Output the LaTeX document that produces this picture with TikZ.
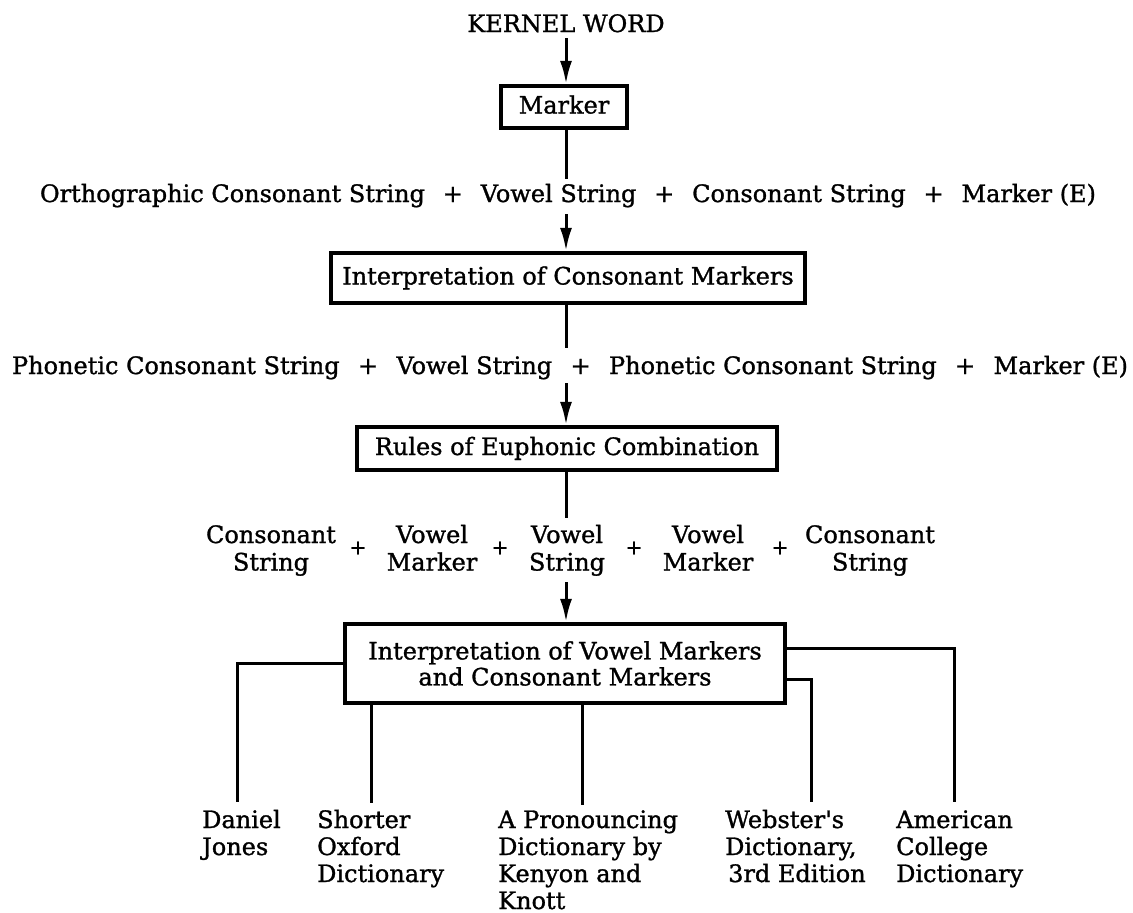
\documentclass[tikz,border=0pt]{standalone}
\usepackage{fontspec}
\setmainfont{DejaVu Serif}[Ligatures=TeXOff, FakeBold=1.2]
\usetikzlibrary{arrows.meta}
% a left-aligned column of lines whose baseline is that of its first line
\newcommand{\leftlines}[1]{\vtop{\baselineskip=27pt\halign{##\hfil\cr#1\crcr}}}
\begin{document}
\begin{tikzpicture}[x=1pt,y=-1pt,
  every node/.style={inner sep=0pt, font=\fontsize{24}{27.5}\selectfont},
  boxnode/.style={draw, line width=4.2pt, text height=18pt, text depth=5pt},
  link/.style={line width=3pt},
  arr/.style={line width=3pt, -{Latex[length=23pt,width=12pt]}},
  plus/.style={font=\fontsize{20}{24}\selectfont},
  lbl/.style={anchor=base west}
  ]
\useasboundingbox (0,0) rectangle (1133,913);

% ---- main chain ----
\node[anchor=base] (kw) at (566,32) {KERNEL WORD};
\node[boxnode, minimum width=126pt, minimum height=42pt] (marker) at (564,107) {Marker};
\node[anchor=base] (r1) at (568,202) {\makebox[1056pt][s]{Orthographic Consonant String\hfill+\hfill Vowel String\hfill+\hfill Consonant String\hfill+\hfill Marker (E)}};
\node[boxnode, minimum width=474pt, minimum height=50pt] (icm) at (568,278) {Interpretation of Consonant Markers};
\node[anchor=base] (r2) at (570,374) {\makebox[1116pt][s]{Phonetic Consonant String\hfill+\hfill Vowel String\hfill+\hfill Phonetic Consonant String\hfill+\hfill Marker (E)}};
\node[boxnode, minimum width=420pt, minimum height=43pt] (euph) at (567,448.5) {Rules of Euphonic Combination};

% ---- split string row ----
\node[anchor=base] (cs1) at (271,543) {\begin{tabular}[t]{@{}c@{}}Consonant\\String\end{tabular}};
\node[plus] (p1) at (358,548) {+};
\node[anchor=base] (vm1) at (432,543) {\begin{tabular}[t]{@{}c@{}}Vowel\\Marker\end{tabular}};
\node[plus] (p2) at (500,548) {+};
\node[anchor=base] (vs) at (567,543) {\begin{tabular}[t]{@{}c@{}}Vowel\\String\end{tabular}};
\node[plus] (p3) at (634,548) {+};
\node[anchor=base] (vm2) at (708,543) {\begin{tabular}[t]{@{}c@{}}Vowel\\Marker\end{tabular}};
\node[plus] (p4) at (780,548) {+};
\node[anchor=base] (cs2) at (870,543) {\begin{tabular}[t]{@{}c@{}}Consonant\\String\end{tabular}};

\node[draw, line width=4.2pt, minimum width=440pt, minimum height=79pt, align=center,
      font=\fontsize{24}{26}\selectfont] (ivm) at (565,663.5)
      {Interpretation of Vowel Markers\\and Consonant Markers};

% ---- dictionaries ----
\node[lbl] (dj) at (202,828) {\leftlines{Daniel\cr Jones}};
\node[lbl] (so) at (317,828) {\leftlines{Shorter\cr Oxford\cr Dictionary}};
\node[lbl] (pd) at (498,828) {\leftlines{A Pronouncing\cr Dictionary by\cr Kenyon and\cr Knott}};
\node[lbl] (wd) at (725,828) {\leftlines{Webster's\cr Dictionary,\cr \hspace{3pt}3rd Edition}};
\node[lbl] (ac) at (896,828) {\leftlines{American\cr College\cr Dictionary}};

% ---- connectors of the chain ----
\coordinate (a1s) at (566,38);
\coordinate (l1e) at (566,179);
\coordinate (a2s) at (566,214);
\coordinate (l2e) at (566,348);
\coordinate (a3s) at (566,383);
\coordinate (l3e) at (566,518);
\coordinate (a4s) at (566,582);
\draw[arr] (a1s) -- (a1s |- marker.north);
\draw[link] (marker.south -| l1e) -- (l1e);
\draw[arr] (a2s) -- (a2s |- icm.north);
\draw[link] (icm.south -| l2e) -- (l2e);
\draw[arr] (a3s) -- (a3s |- euph.north);
\draw[link] (euph.south -| l3e) -- (l3e);
\draw[arr] (a4s) -- (a4s |- ivm.north);

% ---- branches to the dictionaries ----
\coordinate (djE) at (237,802);
\coordinate (soE) at (371,803);
\coordinate (pdE) at (582,805);
\coordinate (wdS) at (0,679);
\coordinate (wdE) at (811,802);
\coordinate (acS) at (0,648);
\coordinate (acE) at (954,802);
\draw[link] (ivm.west) -| (djE);
\draw[link] (ivm.south -| soE) -- (soE);
\draw[link] (ivm.south -| pdE) -- (pdE);
\draw[link] (ivm.east |- wdS) -| (wdE);
\draw[link] (ivm.east |- acS) -| (acE);
\end{tikzpicture}
\end{document}
